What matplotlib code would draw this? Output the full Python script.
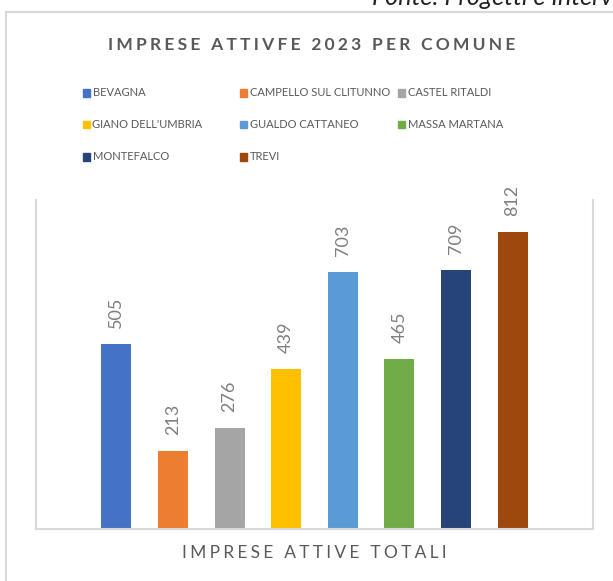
import matplotlib.pyplot as plt
from matplotlib.lines import Line2D

# Data.
comuni = ['BEVAGNA', 'CAMPELLO SUL CLITUNNO', 'CASTEL RITALDI',
          "GIANO DELL'UMBRIA", 'GUALDO CATTANEO', 'MASSA MARTANA',
          'MONTEFALCO', 'TREVI']
imprese = [505, 213, 276, 439, 703, 465, 709, 812]
colori = ['#4472C4', '#ED7D31', '#A5A5A5', '#FFC000',
          '#5B9BD5', '#70AD47', '#264478', '#9E480E']

grigio = '#595959'
fonts = ['Lato', 'DejaVu Sans']
W, H = 613, 581


def spaced(s, sep='\u2009\u200a'):
    # Imitate the letter spacing of the original titles.
    return sep.join(s)


fig = plt.figure(figsize=(W / 100, H / 100), dpi=100)
ax = fig.add_axes([36 / W, 1 - 529 / H, 557 / W, 329 / H])

# One bar per comune.
x = range(len(comuni))
bars = ax.bar(x, imprese, width=0.53, color=colori)
for b, v in zip(bars, imprese):
    ax.annotate(str(v), (b.get_x() + b.get_width() / 2, v),
                xytext=(0, 11.5), textcoords='offset points',
                rotation=90, ha='center', va='bottom',
                fontsize=13, color='#7f7f7f', family=fonts)

ax.set_xlim(-1.42, 8.42)
ax.set_ylim(0, 900)
ax.set_xticks([])
ax.set_yticks([])
for side in ['left', 'right', 'bottom']:
    ax.spines[side].set_color('#d9d9d9')
    ax.spines[side].set_linewidth(1.5)
ax.spines['top'].set_visible(False)

# Outer frame of the chart.
fig.add_artist(Line2D([6 / W, 6 / W], [0, 1 - 12 / H],
                      color='#d9d9d9', lw=1.5))
fig.add_artist(Line2D([6 / W, 1], [1 - 12 / H, 1 - 12 / H],
                      color='#d9d9d9', lw=1.5))

# Titles.
fig.text(312 / W, 1 - 45 / H, spaced('IMPRESE ATTIVFE 2023 PER COMUNE'),
         ha='center', va='center', fontsize=12.5, fontweight='bold',
         color=grigio, family=fonts)
fig.text(314 / W, 1 - 553 / H, spaced('IMPRESE ATTIVE TOTALI'),
         ha='center', va='center', fontsize=12.5, color=grigio, family=fonts)
fig.text(372 / W, 1 - 5 / H, 'Fonte: Progetti e Interventi',
         ha='left', va='baseline', fontsize=18, style='italic',
         color='#222222', family=fonts)

# Legend, filled row by row in three equal columns.
for i, (nome, c) in enumerate(zip(comuni, colori)):
    col, row = i % 3, i // 3
    lx = (83 + col * 157.5) / W
    ly = 1 - (93 + row * 32) / H
    fig.add_artist(plt.Rectangle((lx, ly - 3.5 / H), 7 / W, 7 / H,
                                 color=c, transform=fig.transFigure))
    fig.text(lx + 9.5 / W, ly, nome, ha='left', va='center', fontsize=8,
             color=grigio, family=fonts)

fig.savefig('out.png', dpi=100)
